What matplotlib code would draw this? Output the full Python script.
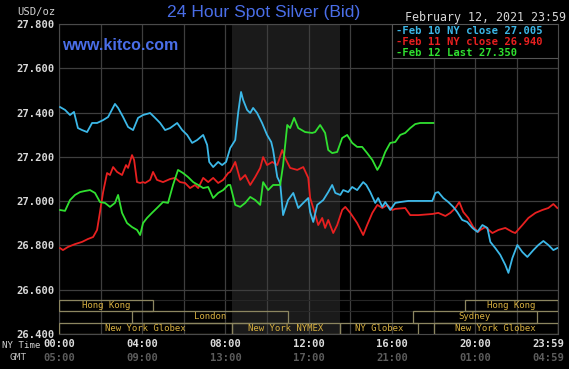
import matplotlib
matplotlib.use("Agg")
import matplotlib.pyplot as plt
from matplotlib.patches import Rectangle
from matplotlib.transforms import offset_copy
import numpy as np

# hours since 00:00 NY time, price in USD/oz
feb10_t = [0.05, 0.29, 0.53, 0.72, 0.91, 1.11, 1.35, 1.59, 1.83, 2.12, 2.36, 2.69, 2.84, 3.08, 3.32,
           3.56, 3.80, 4.04, 4.38, 4.62, 4.86, 5.10, 5.34, 5.68, 5.92, 6.16, 6.40, 6.64, 6.93, 7.12,
           7.22, 7.41, 7.65, 7.84, 8.03, 8.23, 8.47, 8.61, 8.75, 8.85, 9.04, 9.19, 9.33, 9.52, 9.76,
           10.00, 10.20, 10.29, 10.49, 10.63, 10.77, 11.01, 11.26, 11.50, 11.74, 11.98, 12.07, 12.22,
           12.41, 12.70, 12.94, 13.13, 13.28, 13.52, 13.66, 13.90, 14.09, 14.33, 14.62, 14.77, 14.96,
           15.20, 15.34, 15.54, 15.68, 15.92, 16.16, 16.40, 16.79, 17.12, 17.94, 18.09, 18.23, 18.47,
           18.71, 18.95, 19.14, 19.38, 19.62, 19.87, 20.11, 20.35, 20.59, 20.73, 20.97, 21.21, 21.45,
           21.60, 21.79, 22.03, 22.27, 22.51, 22.80, 23.04, 23.28, 23.52, 23.76, 23.95]
feb10_p = [27.425, 27.412, 27.389, 27.403, 27.330, 27.321, 27.312, 27.353, 27.353, 27.366, 27.380,
           27.439, 27.421, 27.380, 27.335, 27.321, 27.376, 27.389, 27.398, 27.376, 27.353, 27.321,
           27.330, 27.353, 27.321, 27.299, 27.263, 27.276, 27.299, 27.254, 27.177, 27.154, 27.177,
           27.163, 27.177, 27.240, 27.276, 27.398, 27.493, 27.457, 27.412, 27.398, 27.421, 27.398,
           27.353, 27.299, 27.267, 27.231, 27.109, 27.082, 26.937, 27.005, 27.037, 26.969, 26.992,
           27.014, 26.951, 26.906, 26.983, 27.005, 27.041, 27.073, 27.037, 27.028, 27.050, 27.041,
           27.064, 27.050, 27.086, 27.073, 27.041, 26.992, 27.014, 26.974, 26.996, 26.960, 26.992,
           26.996, 27.001, 27.001, 27.001, 27.037, 27.041, 27.014, 26.996, 26.974, 26.951, 26.915,
           26.906, 26.879, 26.861, 26.892, 26.879, 26.816, 26.788, 26.757, 26.712, 26.676, 26.743,
           26.802, 26.770, 26.748, 26.779, 26.802, 26.820, 26.802, 26.779, 26.788]

feb11_t = [0.05, 0.19, 0.43, 0.77, 1.11, 1.39, 1.64, 1.83, 1.97, 2.12, 2.31, 2.45, 2.60, 2.79, 3.03,
           3.22, 3.32, 3.51, 3.61, 3.75, 3.90, 4.04, 4.14, 4.38, 4.52, 4.71, 5.00, 5.34, 5.58, 5.82,
           6.06, 6.30, 6.54, 6.69, 6.93, 7.17, 7.41, 7.65, 7.89, 8.13, 8.23, 8.47, 8.71, 8.95, 9.19,
           9.43, 9.67, 9.81, 10.00, 10.25, 10.49, 10.73, 10.87, 11.11, 11.45, 11.74, 11.98, 12.07,
           12.22, 12.46, 12.65, 12.79, 12.94, 13.18, 13.37, 13.61, 13.76, 14.00, 14.33, 14.62, 14.81,
           15.06, 15.30, 15.54, 15.78, 16.02, 16.16, 16.64, 16.88, 17.27, 17.94, 18.23, 18.57, 18.81,
           19.05, 19.24, 19.43, 19.67, 19.91, 20.15, 20.25, 20.49, 20.83, 21.12, 21.45, 21.79, 21.93,
           22.27, 22.56, 22.90, 23.23, 23.52, 23.76, 23.95]
feb11_p = [26.788, 26.779, 26.793, 26.806, 26.816, 26.829, 26.838, 26.870, 26.951, 27.041, 27.127,
           27.118, 27.154, 27.132, 27.118, 27.163, 27.150, 27.208, 27.186, 27.086, 27.082, 27.086,
           27.082, 27.096, 27.132, 27.096, 27.086, 27.100, 27.105, 27.086, 27.082, 27.059, 27.073,
           27.059, 27.105, 27.086, 27.105, 27.082, 27.096, 27.127, 27.132, 27.177, 27.096, 27.118,
           27.073, 27.109, 27.150, 27.199, 27.163, 27.177, 27.163, 27.231, 27.195, 27.150, 27.141,
           27.154, 27.105, 27.014, 26.969, 26.892, 26.924, 26.879, 26.915, 26.856, 26.892, 26.960,
           26.974, 26.947, 26.901, 26.847, 26.892, 26.947, 26.983, 26.969, 26.983, 26.960, 26.965,
           26.969, 26.937, 26.937, 26.942, 26.947, 26.933, 26.947, 26.969, 26.996, 26.951, 26.924,
           26.883, 26.861, 26.870, 26.883, 26.856, 26.870, 26.879, 26.861, 26.856, 26.892, 26.924,
           26.947, 26.960, 26.969, 26.987, 26.969]

feb12_t = [0.05, 0.29, 0.53, 0.77, 1.01, 1.25, 1.49, 1.73, 1.97, 2.21, 2.45, 2.69, 2.84, 3.03, 3.27,
           3.51, 3.75, 3.90, 4.04, 4.23, 4.47, 4.71, 5.00, 5.24, 5.48, 5.72, 5.96, 6.20, 6.45, 6.69,
           6.93, 7.17, 7.41, 7.65, 7.89, 8.13, 8.23, 8.47, 8.71, 8.95, 9.19, 9.43, 9.67, 9.81, 10.05,
           10.29, 10.63, 10.77, 10.97, 11.11, 11.30, 11.50, 11.83, 12.17, 12.31, 12.55, 12.79, 12.94,
           13.13, 13.37, 13.61, 13.85, 14.09, 14.33, 14.57, 14.81, 15.06, 15.30, 15.44, 15.68, 15.92,
           16.16, 16.40, 16.64, 16.88, 17.12, 17.36, 17.99]
feb12_p = [26.960, 26.956, 27.005, 27.028, 27.041, 27.046, 27.050, 27.037, 26.996, 26.992, 26.974,
           26.992, 27.028, 26.947, 26.901, 26.883, 26.870, 26.847, 26.901, 26.924, 26.947, 26.969,
           26.996, 26.992, 27.073, 27.141, 27.127, 27.109, 27.086, 27.073, 27.059, 27.064, 27.014,
           27.037, 27.050, 27.073, 27.073, 26.983, 26.974, 26.992, 27.019, 27.005, 26.983, 27.086,
           27.050, 27.073, 27.073, 27.163, 27.344, 27.330, 27.376, 27.330, 27.312, 27.308, 27.312,
           27.344, 27.308, 27.231, 27.217, 27.222, 27.285, 27.299, 27.263, 27.245, 27.245, 27.217,
           27.186, 27.141, 27.163, 27.222, 27.263, 27.267, 27.299, 27.308, 27.330, 27.348, 27.353,
           27.353]

legend_labels = ["-Feb 10 NY close 27.005", "-Feb 11 NY close 26.940", "-Feb 12 Last 27.350"]

ny_ticks = [0, 4, 8, 12, 16, 20, 23.983]
ny_labels = ["00:00", "04:00", "08:00", "12:00", "16:00", "20:00", "23:59"]
gmt_labels = ["05:00", "09:00", "13:00", "17:00", "21:00", "01:00", "04:59"]

# (name, start hour, end hour, row)
sessions = [
    ("Hong Kong", 0, 4.5, 0),
    ("Hong Kong", 19.5, 23.983, 0),
    ("London", 3.5, 11.0, 1),
    ("Sydney", 17.0, 22.95, 1),
    ("New York Globex", 0, 8.33, 2),
    ("New York NYMEX", 8.33, 13.5, 2),
    ("NY Globex", 13.5, 17.25, 2),
    ("New York Globex", 18.0, 23.983, 2),
]

W, H = 569, 369
cyan, red, green = "#3cb8e8", "#e82020", "#30e030"
mono = "DejaVu Sans Mono"

fig = plt.figure(figsize=(W / 100, H / 100), dpi=100, facecolor="black")


def fx(px):
    return px / W


def fy(py):
    return 1 - py / H


ax = fig.add_axes([fx(59), fy(334), fx(558) - fx(59), fy(24) - fy(334)], facecolor="black")
ax.set_xlim(0, 23.983)
ax.set_ylim(26.4, 27.8)

# NYMEX open session shading
ax.axvspan(8.33, 13.5, color="#1a1a1a", zorder=0, lw=0)

grid_c = "#3e3e3e"
for h in list(range(0, 24, 2)) + [23.983]:
    ax.axvline(h, color=grid_c, lw=0.9, zorder=1)
for v in np.arange(26.6, 27.81, 0.2):
    ax.axhline(v, color=grid_c, lw=0.9, zorder=1)

rows = [(26.504, 26.554), (26.450, 26.504), (26.400, 26.450)]
for lo, hi in rows:
    ax.axhline(hi, color="#262626", lw=0.8, zorder=1)

for s in ax.spines.values():
    s.set_color("#4a4a4a")

ax.plot(feb10_t, feb10_p, color=cyan, lw=1.3, zorder=4)
ax.plot(feb11_t, feb11_p, color=red, lw=1.3, zorder=3)
ax.plot(feb12_t, feb12_p, color=green, lw=1.3, zorder=5)

for name, t0, t1, row in sessions:
    lo, hi = rows[row]
    ax.add_patch(Rectangle((t0, lo), t1 - t0, hi - lo, fill=False,
                           edgecolor="#8c8660", lw=0.9, zorder=6))
    ax.text((t0 + t1) / 2, (lo + hi) / 2, name, color="#d8b040", fontsize=6.5,
            family=mono, ha="center", va="center", zorder=7)

# legend box top right
ax.add_patch(Rectangle((16.0, 27.646), 23.983 - 16.0, 27.8 - 27.646, facecolor="black",
                       edgecolor="#555555", lw=0.8, zorder=8))
for i, (lab, c) in enumerate(zip(legend_labels, [cyan, red, green])):
    fig.text(fx(396), fy(31 + 11 * i), lab, color=c, fontsize=7.6, family=mono,
             weight="bold", va="center", ha="left", zorder=9)

ax.set_yticks(np.arange(26.4, 27.81, 0.2))
ax.set_yticklabels(["%.3f" % v for v in np.arange(26.4, 27.81, 0.2)])
ax.set_xticks(ny_ticks)
ax.set_xticklabels([])
ax.tick_params(length=0, labelsize=7.6, colors="#d8d8d8")
ax.tick_params(axis="y", pad=3)
for lab in ax.get_yticklabels():
    lab.set_family(mono)
    lab.set_weight("bold")

# time labels below the axis: NY time row and GMT row
xt = ax.get_xaxis_transform()
for i, (t, ny, g) in enumerate(zip(ny_ticks, ny_labels, gmt_labels)):
    tr = xt if i < len(ny_ticks) - 1 else offset_copy(xt, fig=fig, x=-10, units="dots")
    ax.text(t, -(344 - 334) / 310, ny, transform=tr, color="#dcdcdc", fontsize=7.6,
            family=mono, weight="bold", ha="center", va="center")
    ax.text(t, -(358 - 334) / 310, g, transform=tr, color="#5c5c5c", fontsize=7.6,
            family=mono, weight="bold", ha="center", va="center")

fig.text(fx(2), fy(346), "NY Time", color="#d0d0d0", fontsize=6.6, family=mono,
         ha="left", va="center")
fig.text(fx(10), fy(358), "GMT", color="#c0c0c0", fontsize=6.8, family=mono,
         ha="left", va="center")
fig.text(fx(56), fy(12), "USD/oz", color="#d0d0d0", fontsize=7.6, family=mono,
         ha="right", va="center")

fig.text(fx(264), fy(13), "24 Hour Spot Silver (Bid)", color="#4a6ee8", fontsize=12.6,
         family="Liberation Sans", ha="center", va="center")
fig.text(fx(62), fy(45), "www.kitco.com", color="#4a6ee8", fontsize=11.5,
         family="Liberation Sans", weight="bold", ha="left", va="center", zorder=9)
fig.text(fx(566), fy(17), "February 12, 2021 23:59", color="#d8d8d8", fontsize=8.4,
         family=mono, ha="right", va="center")

fig.savefig("out.png", dpi=100, facecolor="black")
